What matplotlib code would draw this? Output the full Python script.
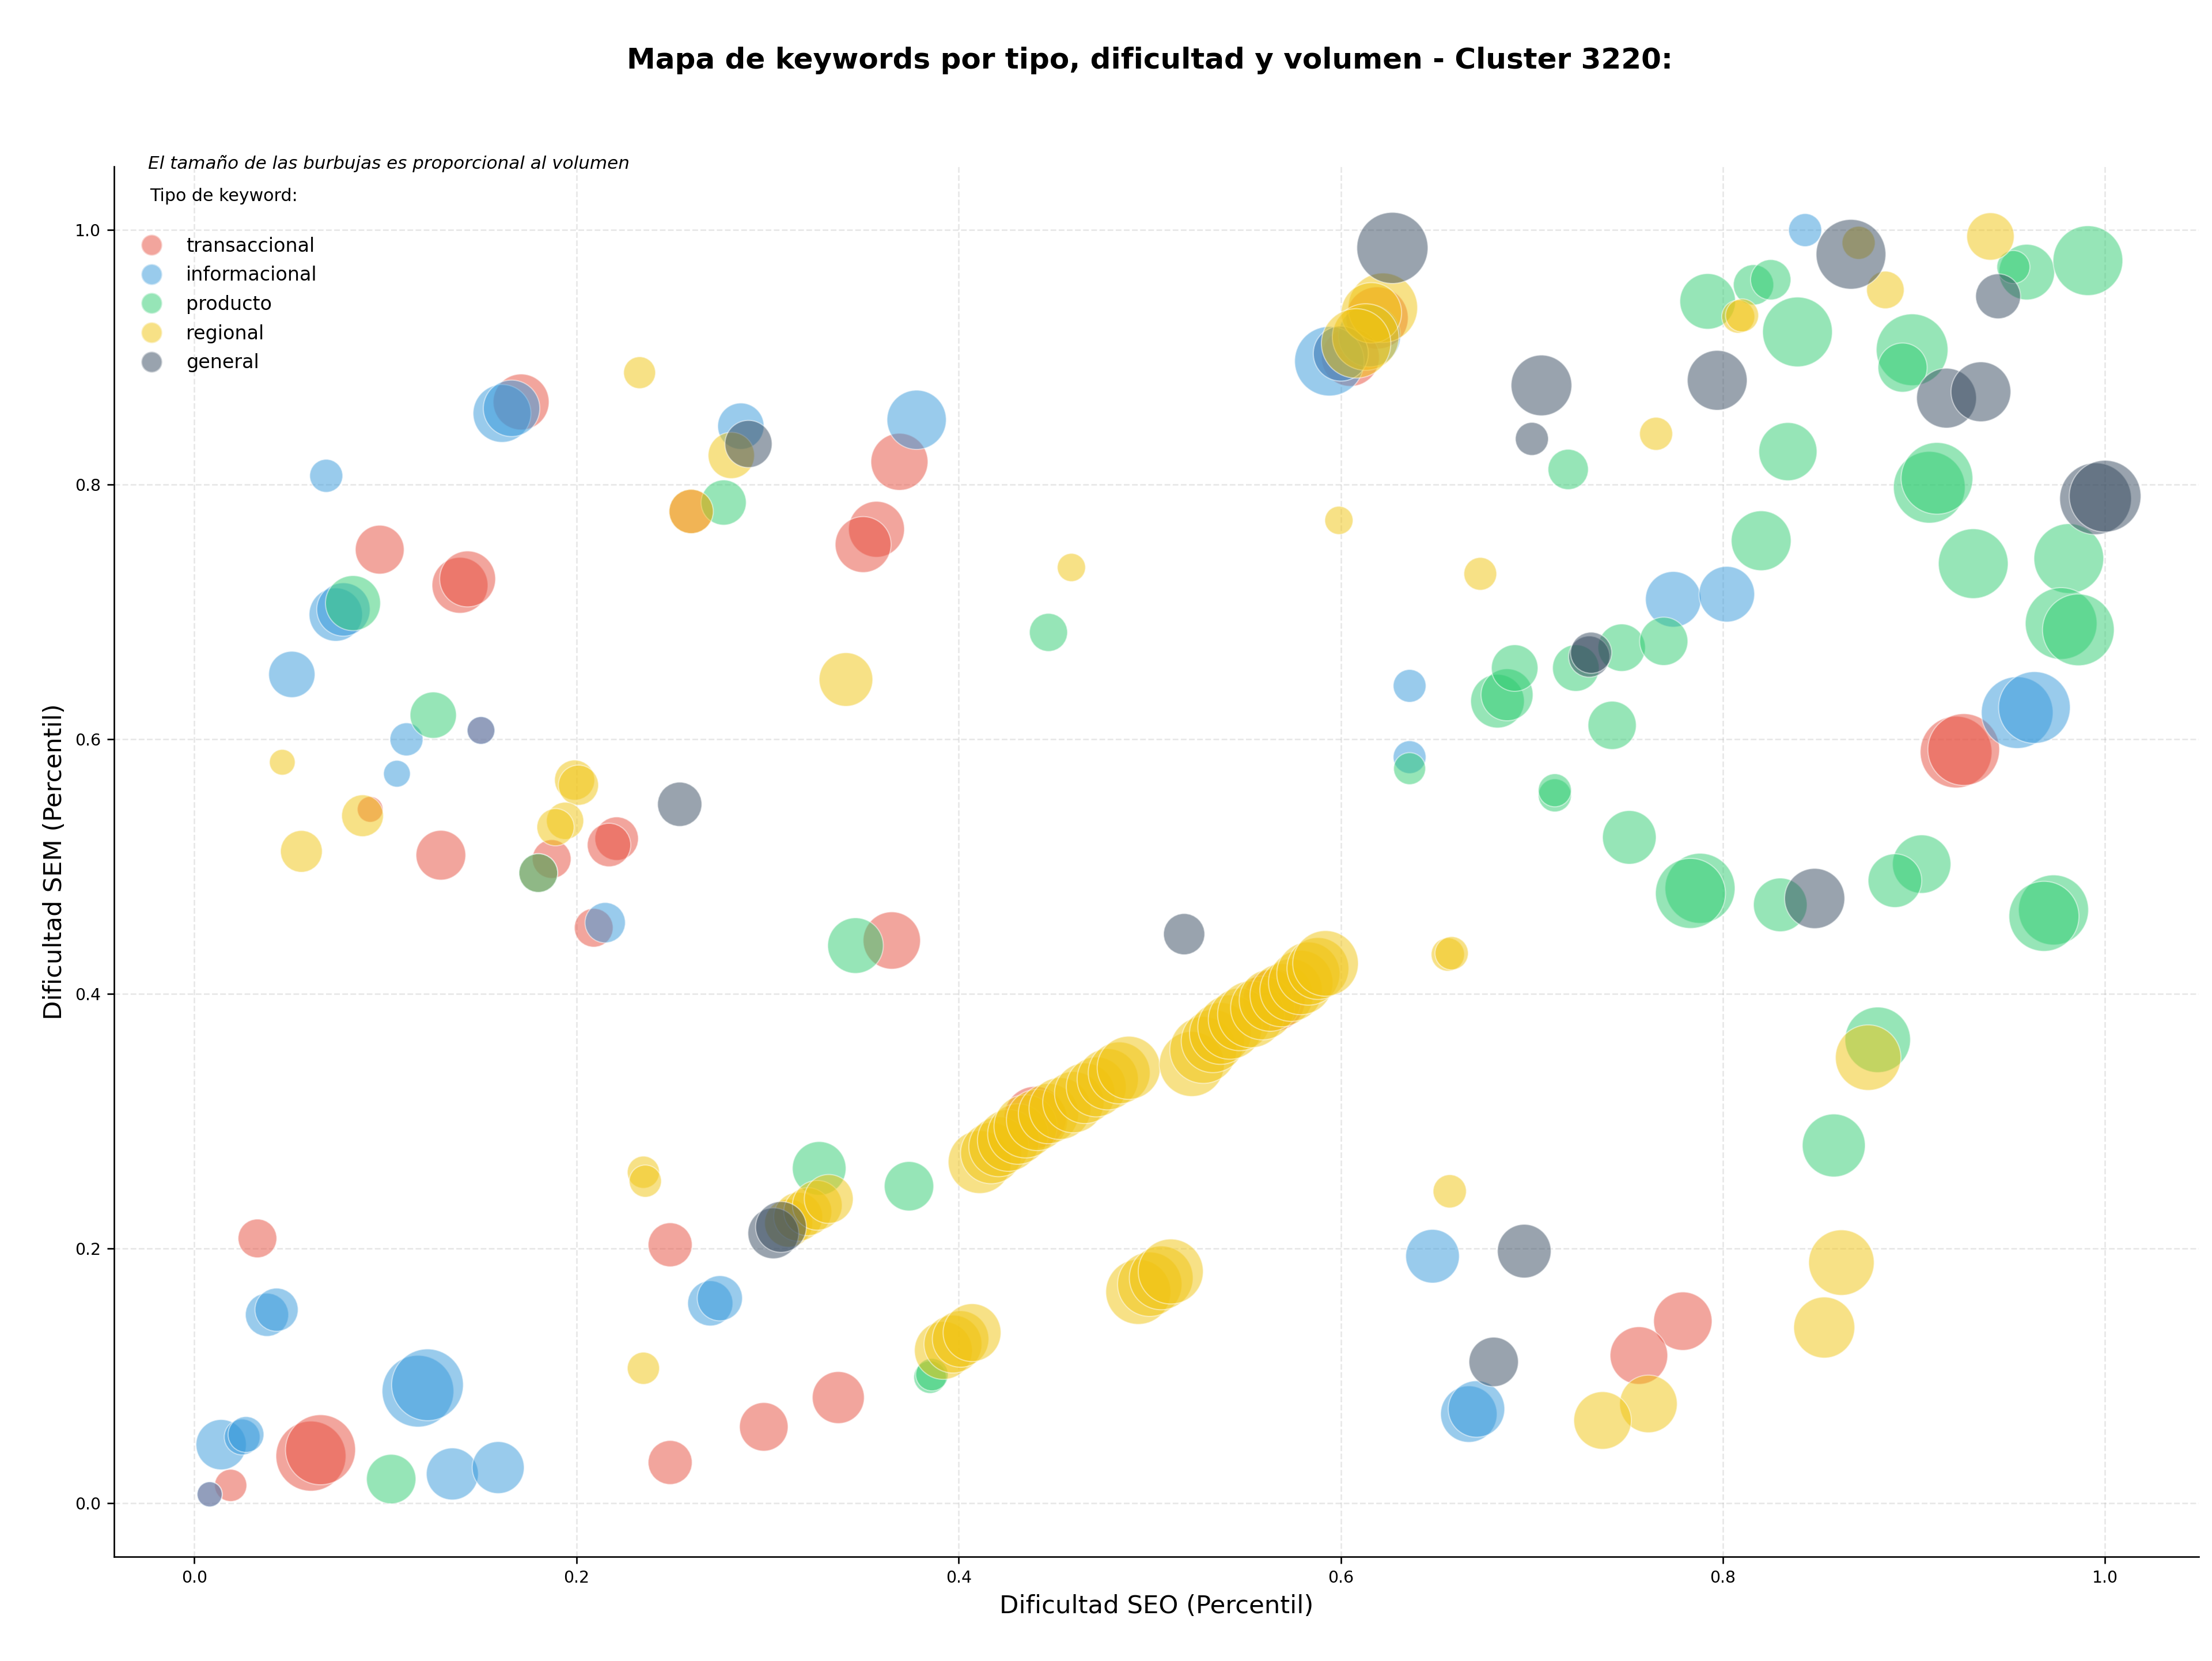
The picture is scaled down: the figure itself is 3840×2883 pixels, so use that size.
import matplotlib.pyplot as plt
from matplotlib.lines import Line2D
import numpy as np

# Tipos de keyword y colores
tipos = ['transaccional', 'informacional', 'producto', 'regional', 'general']
colores = ['#e74c3c', '#3498db', '#2ecc71', '#f1c40f', '#34495e']

# transaccional
trans_seo = [0.171, 0.260, 0.097, 0.139, 0.143, 0.150, 0.092, 0.221, 0.217, 0.129,
             0.187, 0.180, 0.209, 0.033, 0.249, 0.298, 0.249, 0.061, 0.066, 0.019,
             0.008, 0.365, 0.337, 0.369, 0.357, 0.350, 0.619, 0.605, 0.600, 0.922,
             0.926, 0.779, 0.756, 0.440, 0.565]
trans_sem = [0.865, 0.779, 0.749, 0.721, 0.726, 0.607, 0.545, 0.522, 0.517, 0.509,
             0.506, 0.495, 0.452, 0.208, 0.203, 0.060, 0.032, 0.037, 0.042, 0.014,
             0.007, 0.442, 0.083, 0.818, 0.765, 0.753, 0.931, 0.900, 0.903, 0.590,
             0.592, 0.143, 0.116, 0.303, 0.395]
trans_vol = [392, 246, 299, 392, 392, 96, 83, 237, 237, 310,
             188, 188, 188, 188, 243, 296, 243, 615, 615, 130,
             79, 412, 339, 408, 392, 392, 484, 420, 380, 645,
             645, 428, 416, 484, 484]

# informacional
info_seo = [0.161, 0.166, 0.286, 0.069, 0.074, 0.078, 0.051, 0.111, 0.150, 0.106,
            0.215, 0.038, 0.043, 0.270, 0.275, 0.117, 0.122, 0.014, 0.025, 0.027,
            0.008, 0.135, 0.159, 0.378, 0.615, 0.594, 0.600, 0.636, 0.636, 0.843,
            0.774, 0.802, 0.954, 0.963, 0.648, 0.667, 0.671]
info_sem = [0.856, 0.860, 0.846, 0.807, 0.698, 0.702, 0.651, 0.600, 0.607, 0.573,
            0.456, 0.148, 0.152, 0.157, 0.161, 0.088, 0.093, 0.046, 0.052, 0.054,
            0.007, 0.023, 0.028, 0.851, 0.917, 0.897, 0.903, 0.642, 0.586, 1.000,
            0.710, 0.714, 0.621, 0.625, 0.194, 0.070, 0.074]
info_vol = [420, 400, 269, 137, 357, 357, 269, 137, 96, 90,
            204, 234, 234, 256, 256, 645, 645, 317, 161, 161,
            79, 339, 339, 441, 484, 605, 380, 135, 135, 137,
            388, 388, 645, 645, 361, 400, 400]

# producto
prod_seo = [0.277, 0.083, 0.125, 0.180, 0.103, 0.346, 0.327, 0.374, 0.385, 0.386,
            0.447, 0.636, 0.682, 0.687, 0.691, 0.723, 0.747, 0.769, 0.742, 0.712,
            0.712, 0.751, 0.719, 0.834, 0.820, 0.792, 0.816, 0.825, 0.839, 0.899,
            0.894, 0.959, 0.952, 0.991, 0.908, 0.912, 0.931, 0.981, 0.977, 0.986,
            0.904, 0.890, 0.788, 0.783, 0.830, 0.973, 0.968, 0.881, 0.858]
prod_sem = [0.786, 0.707, 0.619, 0.495, 0.019, 0.438, 0.263, 0.249, 0.099, 0.101,
            0.684, 0.577, 0.630, 0.635, 0.656, 0.656, 0.672, 0.677, 0.611, 0.556,
            0.560, 0.523, 0.812, 0.826, 0.756, 0.944, 0.957, 0.961, 0.920, 0.906,
            0.892, 0.967, 0.971, 0.976, 0.798, 0.805, 0.738, 0.742, 0.691, 0.686,
            0.502, 0.489, 0.483, 0.479, 0.470, 0.466, 0.461, 0.364, 0.281]
prod_vol = [256, 380, 269, 188, 306, 388, 361, 306, 132, 132,
            182, 128, 361, 339, 272, 272, 282, 292, 292, 137,
            137, 361, 204, 424, 449, 388, 204, 204, 610, 645,
            303, 388, 137, 610, 645, 645, 610, 610, 645, 645,
            428, 361, 615, 615, 361, 615, 615, 538, 497]

# regional
reg_seo = [0.233, 0.281, 0.260, 0.046, 0.199, 0.201, 0.194, 0.189, 0.088, 0.056,
           0.235, 0.236, 0.235, 0.459, 0.341, 0.599, 0.673, 0.622, 0.616, 0.613,
           0.608, 0.656, 0.658, 0.657, 0.871, 0.940, 0.885, 0.808, 0.810, 0.765,
           0.876, 0.862, 0.853, 0.761, 0.737,
           0.311, 0.316, 0.321, 0.326, 0.332,
           0.411, 0.417, 0.421, 0.426, 0.431, 0.435, 0.441, 0.447, 0.453, 0.460,
           0.466, 0.472, 0.478, 0.484, 0.489,
           0.522, 0.528, 0.533, 0.537, 0.542, 0.547, 0.553, 0.559, 0.563, 0.569,
           0.574, 0.579, 0.583, 0.588, 0.592,
           0.494, 0.500, 0.506, 0.511,
           0.392, 0.397, 0.401, 0.407]
reg_sem = [0.888, 0.823, 0.779, 0.582, 0.568, 0.564, 0.536, 0.531, 0.540, 0.512,
           0.260, 0.253, 0.106, 0.735, 0.647, 0.772, 0.730, 0.939, 0.935, 0.916,
           0.911, 0.431, 0.432, 0.245, 0.990, 0.995, 0.953, 0.932, 0.933, 0.840,
           0.350, 0.189, 0.138, 0.078, 0.065,
           0.220, 0.225, 0.229, 0.234, 0.239,
           0.268, 0.275, 0.280, 0.285, 0.290, 0.296, 0.301, 0.306, 0.310, 0.315,
           0.322, 0.327, 0.333, 0.338, 0.342,
           0.345, 0.356, 0.363, 0.369, 0.374, 0.380, 0.384, 0.389, 0.395, 0.399,
           0.403, 0.409, 0.416, 0.420, 0.424,
           0.166, 0.172, 0.177, 0.182,
           0.120, 0.125, 0.129, 0.134]
reg_vol = [128, 269, 246, 83, 202, 202, 174, 174, 219, 219,
           130, 130, 130, 100, 361, 100, 135, 605, 458, 557,
           605, 139, 139, 139, 137, 282, 177, 137, 137, 137,
           538, 538, 467, 416, 416,
           289, 300, 289, 310, 300,
           497, 470, 450, 480, 460, 500, 470, 455, 480, 470,
           460, 450, 470, 480, 500,
           530, 560, 500, 480, 520, 490, 560, 510, 480, 500,
           490, 520, 500, 480, 540,
           530, 520, 510, 530,
           420, 420, 400, 420]

# general
gen_seo = [0.290, 0.254, 0.303, 0.307, 0.518, 0.627, 0.867, 0.944, 0.917, 0.935,
           0.705, 0.797, 0.700, 0.995, 1.000, 0.730, 0.731, 0.848, 0.680, 0.696]
gen_sem = [0.832, 0.549, 0.212, 0.217, 0.447, 0.986, 0.981, 0.948, 0.868, 0.873,
           0.878, 0.882, 0.836, 0.789, 0.791, 0.665, 0.668, 0.475, 0.111, 0.198]
gen_vol = [279, 246, 324, 324, 213, 635, 610, 253, 449, 449,
           462, 449, 137, 645, 645, 213, 213, 454, 306, 361]

series = [
    (trans_seo, trans_sem, trans_vol),
    (info_seo, info_sem, info_vol),
    (prod_seo, prod_sem, prod_vol),
    (reg_seo, reg_sem, reg_vol),
    (gen_seo, gen_sem, gen_vol),
]

fig, ax = plt.subplots(figsize=(16, 12.0125), dpi=240)
fig.subplots_adjust(left=0.0516, right=0.994, bottom=0.0628, top=0.8998)

for (seo, sem, vol), color in zip(series, colores):
    ax.scatter(seo, sem, s=np.array(vol) * 2.16, color=color, alpha=0.5,
               edgecolors='white', linewidth=0.6)

ax.set_xlim(-0.042, 1.049)
ax.set_ylim(-0.042, 1.05)
ax.set_xticks([0.0, 0.2, 0.4, 0.6, 0.8, 1.0])
ax.set_yticks([0.0, 0.2, 0.4, 0.6, 0.8, 1.0])
ax.tick_params(labelsize=8.5)
ax.grid(True, linestyle='--', alpha=0.3)
ax.set_axisbelow(True)
ax.spines['top'].set_visible(False)
ax.spines['right'].set_visible(False)

ax.set_xlabel('Dificultad SEO (Percentil)', fontsize=13)
ax.set_ylabel('Dificultad SEM (Percentil)', fontsize=13)
fig.suptitle('Mapa de keywords por tipo, dificultad y volumen - Cluster 3220:',
             fontsize=15, fontweight='bold', x=0.5197, y=0.972, va='top')

# leyenda
handles = [Line2D([0], [0], marker='o', color='w', markerfacecolor=c, alpha=0.5,
                  markeredgecolor='white', markersize=11) for c in colores]
ax.legend(handles, tipos, loc='upper left', bbox_to_anchor=(0.0005, 0.962),
          frameon=False, fontsize=10, labelspacing=0.53)
ax.text(0.017, 0.9787, 'Tipo de keyword:', transform=ax.transAxes,
        fontsize=9, ha='left', va='center')
ax.text(0.0162, 1.002, 'El tamaño de las burbujas es proporcional al volumen',
        transform=ax.transAxes, fontsize=9.3, style='italic', ha='left', va='center')

fig.savefig('out.png', dpi=240)
